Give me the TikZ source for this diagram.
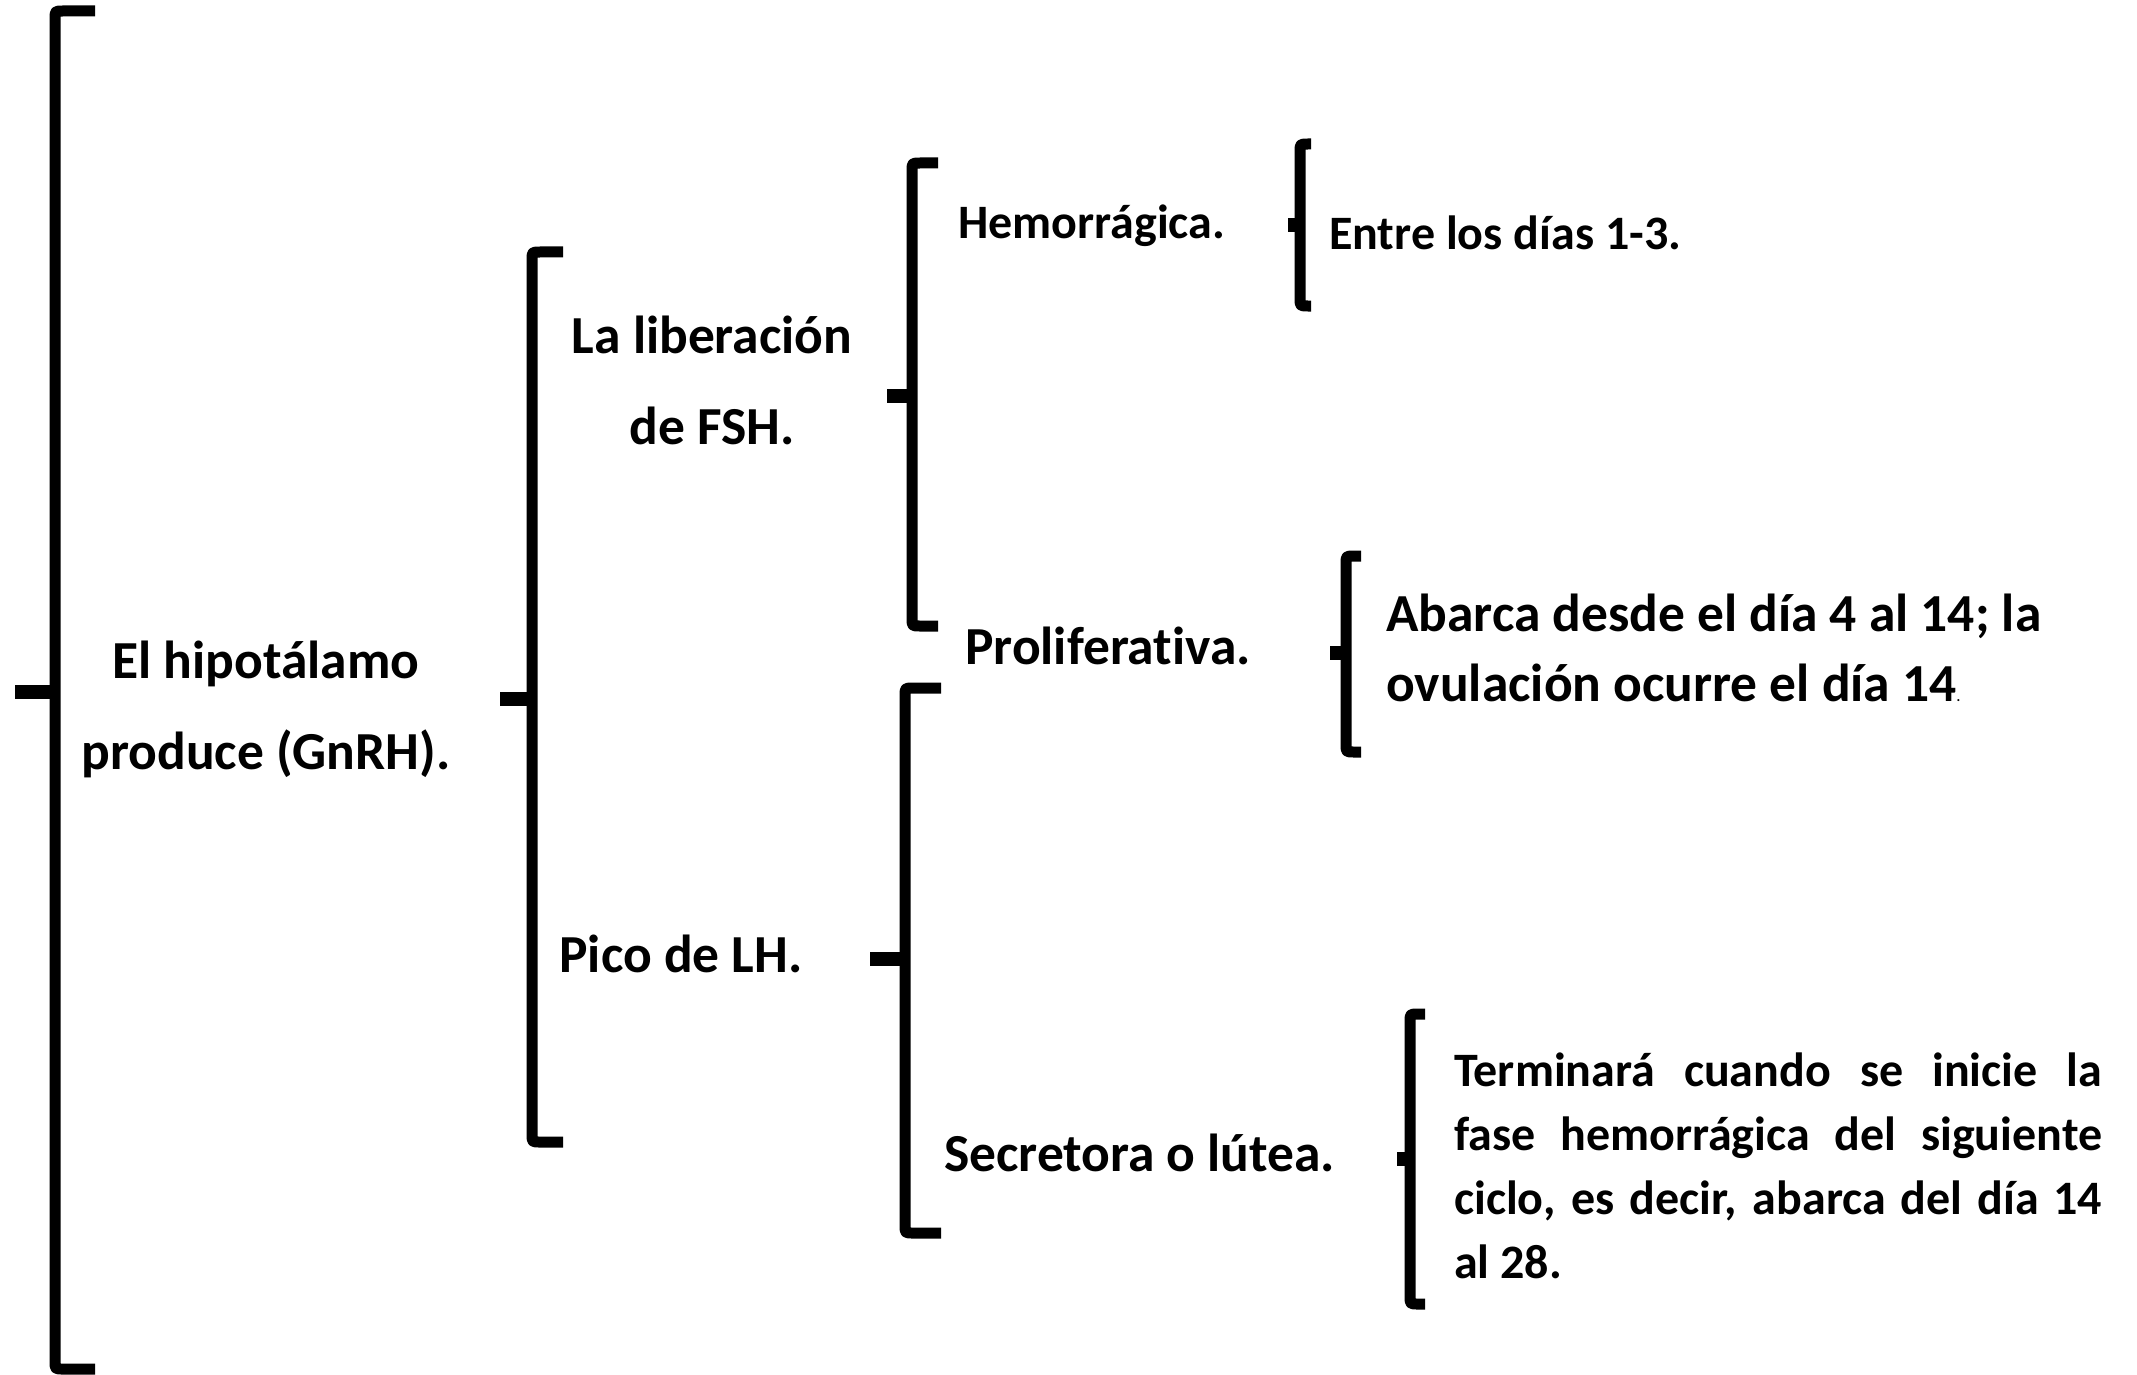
\documentclass[tikz,border=0pt]{standalone}
\usepackage{fontspec}
\setmainfont{Carlito}[Ligatures=NoCommon]

% llave: x, arriba, punta, abajo, punta izq., remate der.
\newcommand{\llave}[6]{%
  \draw[llave] (#6,#2) -- ({#1+8},#2) .. controls (#1,#2) .. (#1,{#2+8})
    -- (#1,{#4-8}) .. controls (#1,#4) .. ({#1+8},#4) -- (#6,#4);
  \draw[punta] (#5,#3) -- (#1,#3);}

\begin{document}
\begin{tikzpicture}[x=1pt,y=-1pt,
    llave/.style={line width=11pt,line join=round},
    punta/.style={line width=14pt},
    grande/.style={font=\fontsize{53.5}{91}\selectfont\bfseries,inner sep=0pt},
    chico/.style={font=\fontsize{48}{64}\selectfont\bfseries,inner sep=0pt}]
  \useasboundingbox (0,0) rectangle (2137,1375);

  % Primer nivel
  \llave{55}{11}{692}{1369}{15}{95}
  \node[grande,anchor=base] (hipo) at (266,678)
    {\parbox[t]{420pt}{\centering El hipotálamo\\produce (GnRH).}};

  % Segundo nivel
  \llave{532}{252}{699}{1142}{500}{563}
  \node[grande,anchor=base] (fsh) at (712,353)
    {\parbox[t]{320pt}{\centering La liberación\\de FSH.}};
  \node[grande,anchor=base] (lh) at (681,972) {Pico de LH.};

  % Fases
  \llave{912}{163}{396}{626}{887}{938}
  \llave{905}{688}{959}{1233}{870}{941}
  \node[chico,anchor=base west] (hemo) at (958,239) {Hemorrágica.};
  \node[grande,anchor=base west] (prol) at (965,664) {Proliferativa.};
  \node[grande,anchor=base west] (secr) at (944,1171) {Secretora o lútea.};

  % Duracion
  \llave{1300}{144}{225}{306}{1288}{1311}
  \llave{1346}{556}{653}{752}{1330}{1361}
  \llave{1410}{1014}{1159}{1304}{1397}{1425}
  \node[chico,anchor=base west] (entre) at (1329,250) {Entre los días 1-3.};
  \node[grande,anchor=base west,font=\fontsize{53.5}{70}\selectfont\bfseries] (abarca) at (1386,631)
    {\parbox[t]{720pt}{Abarca desde el día 4 al 14; la\\ovulación ocurre el día 14{\fontsize{14}{14}\selectfont.}}};
  \node[chico,anchor=base west] (termina) at (1454,1086)
    {\parbox[t]{648pt}{\emergencystretch=3em Terminará cuando se inicie la\linebreak
      fase hemorrágica del siguiente\linebreak
      ciclo, es decir, abarca del día 14\linebreak
      al 28.}};
\end{tikzpicture}
\end{document}
